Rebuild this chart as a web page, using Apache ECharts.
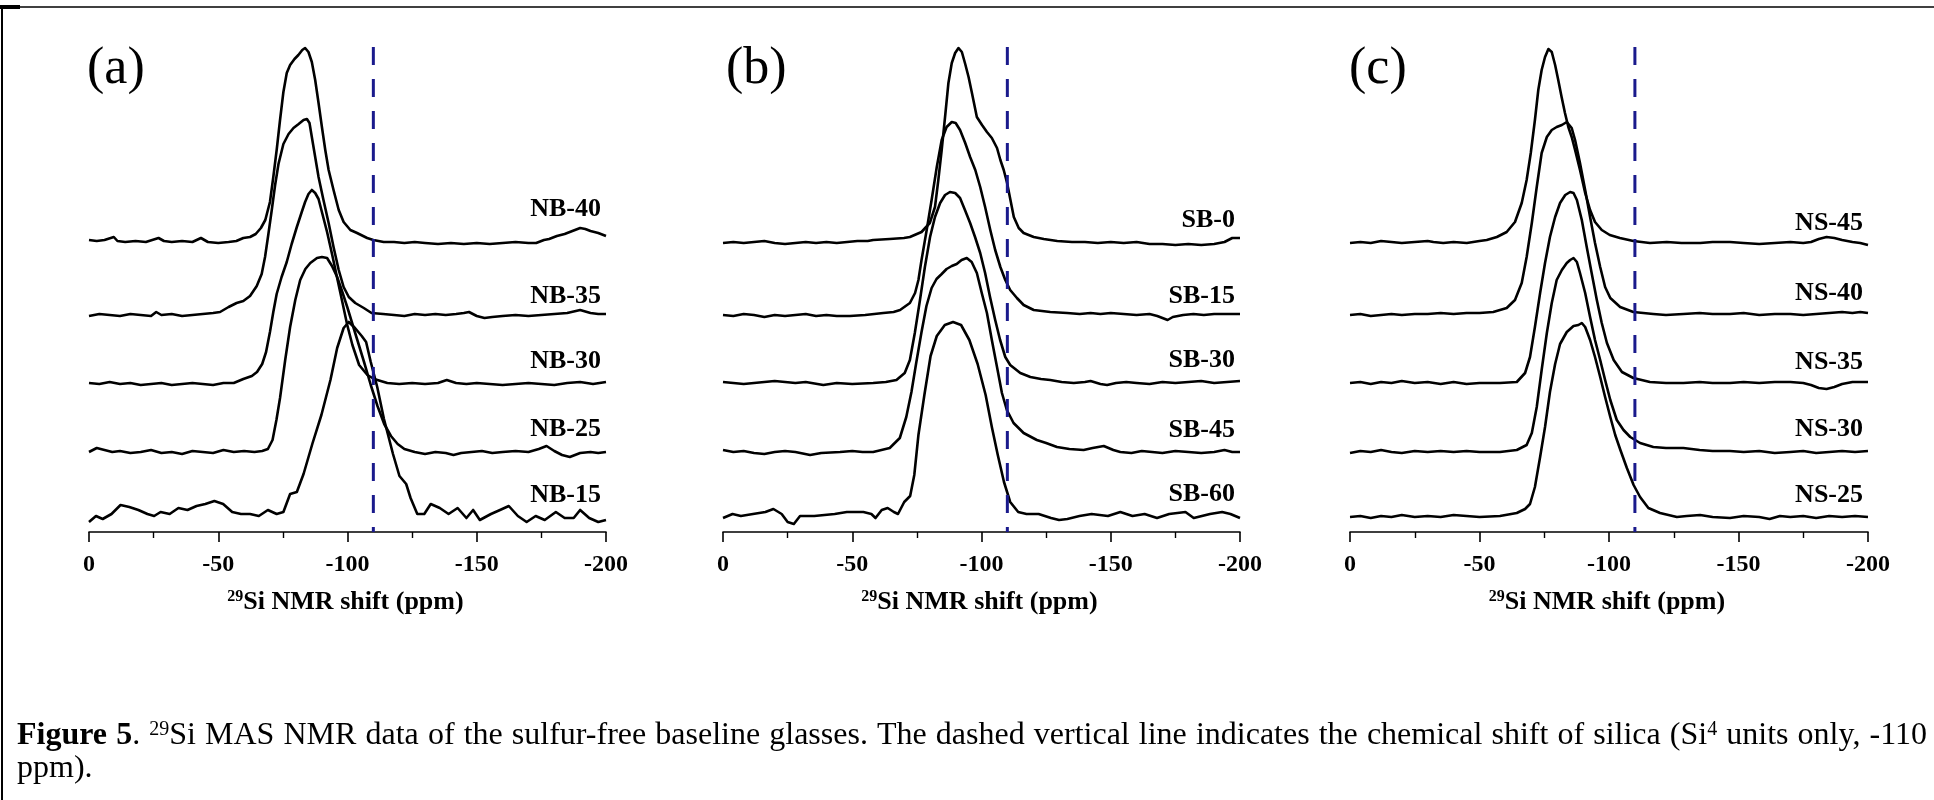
<!DOCTYPE html>
<html><head><meta charset="utf-8">
<script src="https://cdn.jsdelivr.net/npm/echarts@6/dist/echarts.min.js"></script>
<style>html,body{margin:0;padding:0;background:#fff}#c{width:1934px;height:800px}</style>
</head><body><div id="c"></div>
<script>
// ---------- axis ----------
const X_MIN = -200, X_MAX = 0, X_STEP = 50;
const SILICA_SHIFT = -110;
const PANEL_LETTERS = ['(a)', '(b)', '(c)'];
const NAMES_A = ['NB-40', 'NB-35', 'NB-30', 'NB-25', 'NB-15'];
const NAMES_B = ['SB-0', 'SB-15', 'SB-30', 'SB-45', 'SB-60'];
const NAMES_C = ['NS-45', 'NS-40', 'NS-35', 'NS-30', 'NS-25'];
const AXIS_TITLE_SUP = '29';
const AXIS_TITLE = 'Si NMR shift (ppm)';

// ---------- panel (a) ----------
const NB40 = [[0,292],[-3,291],[-6,292],[-9.6,295],[-11,291],[-14,290],[-18,291],[-22,290],[-26.9,294],[-29,291],[-32,290],[-36,291],[-40,290],[-43.3,294],[-46,290],[-50,289],[-54,290],[-57,291],[-59.7,294],[-62.3,295],[-64.5,298],[-66.5,304],[-68.2,312],[-70,330],[-71.3,355],[-72.6,382],[-73.9,412],[-75.2,440],[-76.5,459],[-77.8,467],[-79.5,473],[-81,477],[-82.5,482],[-83.6,484],[-84.9,480],[-86.2,470],[-87.5,452],[-88.8,429],[-90.1,405],[-91.4,382],[-92.7,362],[-94.6,342],[-96.6,322],[-98.5,310],[-101.1,302],[-103.7,299],[-107.6,294],[-110,292],[-114,290],[-118,290],[-122,289],[-126,290],[-130,289],[-135,288],[-140,289],[-145,288],[-150,289],[-155,288],[-160,289],[-165,290],[-170,289],[-173,289],[-176,292],[-178,293],[-181,296],[-184,298],[-187,301],[-190,304],[-192,303],[-194,301],[-197,299],[-200,296]];
const NB35 = [[0,216],[-4,218],[-8,217],[-12,216],[-16,218],[-20,217],[-24,216],[-26,220],[-28,217],[-32,218],[-36,216],[-40,217],[-44,218],[-48,219],[-50.7,220],[-54,225],[-57.1,229],[-59.7,231],[-62.3,236],[-64.9,246],[-66.8,258],[-68.1,275],[-69.4,298],[-70.7,322],[-72,347],[-73.3,368],[-75.2,388],[-77.2,398],[-79.1,404],[-81.1,408],[-83,412],[-84.3,413],[-85.3,409],[-86.2,395],[-87.5,375],[-88.8,355],[-90.7,332],[-92.7,309],[-94.6,285],[-96.6,262],[-98.5,245],[-100.5,235],[-103,229],[-106.3,224],[-109.3,219],[-113.8,218],[-118,217],[-122,216],[-126,218],[-130,217],[-134,218],[-138,217],[-142,218],[-145,219],[-147,220],[-150,216],[-153,214],[-156,215],[-160,216],[-165,217],[-170,216],[-175,217],[-180,218],[-185,219],[-190,222],[-194,219],[-197,218],[-200,218]];
const NB30 = [[0,149],[-4,148],[-8,150],[-12,148],[-16,149],[-20,147],[-24,148],[-28,149],[-32,147],[-36,148],[-40,149],[-44,148],[-48,147],[-52,149],[-56,149],[-59.7,153],[-63,156],[-65,160],[-67,168],[-68.5,180],[-70,200],[-71.3,220],[-72.6,238],[-74.5,255],[-76.5,270],[-78.4,288],[-80.4,305],[-82.3,320],[-83.6,330],[-84.9,338],[-86.2,342],[-87.5,339],[-88.8,333],[-90.1,320],[-92.1,300],[-94.1,277],[-96,254],[-98,230],[-99.9,207],[-101.9,187],[-104.5,167],[-107.7,157],[-110.3,153],[-115.4,149],[-120,148],[-125,149],[-130,148],[-135,149],[-138.4,152],[-142,149],[-146,148],[-150,149],[-155,148],[-160,147],[-165,148],[-170,149],[-175,148],[-180,147],[-185,149],[-190,150],[-195,148],[-200,150]];
const NB25 = [[0,80],[-3,84],[-6,82],[-9,80],[-12,81],[-16,79],[-20,80],[-24,82],[-28,79],[-32,80],[-36,78],[-40,81],[-44,80],[-48,79],[-52,82],[-56,80],[-60,81],[-64,80],[-67,81],[-69.2,83],[-71,92],[-72.5,112],[-73.9,134],[-75.9,172],[-77.8,205],[-79.8,232],[-81.7,252],[-83.7,263],[-85.6,269],[-88.2,274],[-90.1,275],[-92.1,274],[-94,266],[-96,255],[-98,240],[-99.9,225],[-101.9,208],[-103.8,192],[-106.4,170],[-109,147],[-111.6,126],[-114.2,108],[-116.8,96],[-119.4,88],[-122,83],[-126,80],[-130,78],[-134,80],[-138,79],[-141,77],[-144,79],[-148,80],[-152,81],[-156,79],[-160,80],[-165,81],[-170,80],[-174,83],[-177,86],[-180,81],[-183,77],[-186,75],[-190,79],[-194,80],[-197,79],[-200,80]];
const NB15 = [[0,10],[-2.7,16],[-5.3,13],[-8.7,18],[-12.2,27],[-15.6,25],[-19.1,22],[-22.6,18],[-25.2,16],[-27.7,20],[-31.2,18],[-34.6,24],[-38.1,22],[-41.6,26],[-45,28],[-48.5,31],[-51.9,28],[-55.4,20],[-58.8,18],[-62.3,18],[-65.7,16],[-69.2,22],[-72.6,18],[-75.2,20],[-77.8,38],[-80.4,40],[-83,58],[-86.5,89],[-89.9,117],[-93.4,152],[-96,184],[-98.5,204],[-100.5,210],[-102.9,204],[-105.5,196],[-107.2,190],[-109,170],[-111.5,145],[-114.1,113],[-117.6,78],[-120.1,56],[-122.7,48],[-124.4,34],[-127,18],[-129.7,18],[-132.2,28],[-135.7,24],[-139.1,18],[-142.6,24],[-146,14],[-148.6,22],[-151.2,12],[-155.5,18],[-159,22],[-162.4,26],[-165.9,16],[-169.3,10],[-172.8,16],[-176.3,12],[-180.6,20],[-184,14],[-187.5,14],[-190,22],[-193.5,14],[-197,10],[-200,12]];

// ---------- panel (b) ----------
const SB0 = [[0,289],[-4,290],[-8,289],[-12,290],[-16,291],[-20,289],[-24,288],[-28,289],[-32,290],[-36,289],[-40,290],[-44,289],[-48,290],[-52,291],[-56,291],[-58.1,292],[-64.5,293],[-70,294],[-72.3,295],[-76.8,300],[-80,309],[-82,325],[-83.3,352],[-84.6,382],[-85.9,415],[-87.2,449],[-88.5,469],[-89.8,479],[-91.1,484],[-92.4,480],[-93.7,468],[-95,455],[-96.3,439],[-98.2,415],[-100.2,407],[-102.1,400],[-104,394],[-106,384],[-107.3,372],[-108.6,362],[-109.9,349],[-111.2,332],[-112.5,315],[-114.4,304],[-116.3,299],[-120.2,295],[-124.1,293],[-129.3,291],[-135,290],[-140,290],[-145,289],[-150,290],[-155,289],[-160,290],[-165,288],[-170,288],[-175,287],[-180,288],[-185,287],[-190,288],[-194,290],[-197,294],[-200,294]];
const SB15 = [[0,217],[-4,216],[-8,218],[-12,217],[-16,215],[-20,217],[-24,216],[-28,217],[-32,218],[-36,216],[-40,217],[-44,216],[-49.1,216],[-55,217],[-62,219],[-66,220],[-68.5,222],[-72.3,229],[-74.3,239],[-75.6,252],[-76.8,272],[-78.8,302],[-80.7,332],[-82.7,365],[-84.6,392],[-86.5,405],[-88.5,410],[-90,409],[-91.7,402],[-93.7,389],[-95.6,375],[-97.6,362],[-99.5,345],[-101.4,325],[-103.4,302],[-105.3,282],[-107.3,265],[-109.2,252],[-111.1,242],[-113.7,234],[-116.3,227],[-120.2,222],[-126.6,220],[-133.1,219],[-138,218],[-142.2,219],[-146,218],[-150,219],[-155,218],[-160,217],[-165,218],[-168,216],[-170,214],[-172,212],[-174,215],[-178,217],[-182,218],[-186,217],[-190,218],[-195,218],[-200,218]];
const SB30 = [[0,150],[-4,149],[-8,148],[-12,149],[-16,150],[-20,151],[-24,150],[-28,149],[-32,150],[-38.8,147],[-44,149],[-50,148],[-58.1,149],[-63,150],[-67.1,152],[-70.3,159],[-72.3,172],[-74.2,199],[-76.2,232],[-78.1,265],[-80.1,295],[-82,315],[-84,329],[-85.9,337],[-87.8,340],[-89.8,339],[-91.7,334],[-93.6,322],[-95.6,309],[-97.5,295],[-99.5,279],[-101.4,259],[-103.3,235],[-105.3,212],[-107.2,192],[-109.2,175],[-111.1,167],[-115,159],[-118.9,155],[-123,153],[-126.6,152],[-131,150],[-135.7,149],[-140,150],[-142.2,151],[-146,148],[-148.6,147],[-152,149],[-156,150],[-160,149],[-165,148],[-170,150],[-175,149],[-180,150],[-185,151],[-190,149],[-195,150],[-200,151]];
const SB45 = [[0,82],[-4,80],[-8,81],[-12,79],[-16,78],[-20,80],[-24,81],[-28,80],[-33.7,77],[-38,79],[-45.3,80],[-50,81],[-54,80],[-58.1,80],[-64.5,84],[-68.4,94],[-70.9,115],[-72.9,140],[-74.8,170],[-76.8,200],[-78.7,226],[-80.7,244],[-82.6,253],[-84.6,258],[-86.5,263],[-88.5,266],[-90.4,268],[-92.3,272],[-94.3,274],[-96.2,270],[-98.2,259],[-100.1,239],[-102.1,219],[-104,192],[-106,165],[-107.9,139],[-109.8,122],[-112.4,109],[-116.3,99],[-121.4,92],[-125,89],[-129.2,85],[-134,83],[-139.5,82],[-143,84],[-147.3,86],[-151,82],[-153.7,80],[-158,79],[-162,81],[-166,80],[-170,79],[-175,81],[-180,80],[-185,79],[-190,80],[-194,82],[-197,80],[-200,80]];
const SB60 = [[0,14],[-3.7,18],[-6.9,16],[-11.6,18],[-16.4,20],[-19.5,23],[-22.7,18],[-25,10],[-27.4,8],[-29.8,16],[-35.3,16],[-43.2,18],[-47.9,20],[-54.3,20],[-57.4,18],[-59,14],[-61.4,22],[-63.7,24],[-66.1,20],[-67.7,18],[-70.1,30],[-72.4,36],[-74,57],[-75.6,97],[-77.9,137],[-80.3,176],[-82.7,196],[-85.8,207],[-89,210],[-92.1,207],[-95.3,192],[-98.5,168],[-101.6,137],[-104,105],[-106.3,77],[-108.7,50],[-111.1,30],[-114.2,20],[-117.4,18],[-122.1,18],[-126.9,14],[-130,12],[-133.2,13],[-137.9,16],[-142.6,18],[-148.9,16],[-153.7,20],[-158.4,16],[-163.1,18],[-167.9,14],[-172.6,18],[-178.9,20],[-182.1,14],[-188.4,18],[-193.1,20],[-196.3,18],[-200,14]];

// ---------- panel (c) ----------
const NS45 = [[0,289],[-4,290],[-8,289],[-12,291],[-16,290],[-20,289],[-25,290],[-30,291],[-32.2,290],[-36,289],[-40,290],[-45.1,289],[-50,291],[-52.8,292],[-56.7,295],[-60.5,300],[-63.7,310],[-66.3,329],[-68.2,352],[-69.8,379],[-71.4,412],[-72.7,442],[-74,462],[-75.3,475],[-76.6,483],[-77.9,480],[-79.2,467],[-80.4,452],[-81.7,435],[-83,419],[-84.3,405],[-85.6,395],[-86.9,382],[-88.8,362],[-90.8,339],[-92.7,322],[-94.6,310],[-97.2,302],[-100.3,297],[-104.2,294],[-109.4,291],[-115.8,289],[-122.3,290],[-128,289],[-135.2,289],[-140,290],[-146.7,290],[-152,289],[-158,288],[-164,289],[-170,290],[-175,289],[-178,290],[-181,293],[-184,295],[-187,294],[-190,292],[-194,290],[-197,289],[-200,287]];
const NS40 = [[0,217],[-4,218],[-8,216],[-12,217],[-16,218],[-20,217],[-25,218],[-30,218],[-35,219],[-40,218],[-45,219],[-50,219],[-55.3,220],[-60.5,224],[-63.7,232],[-66.3,249],[-68.2,275],[-70.2,309],[-72.1,345],[-74,379],[-76,395],[-77.9,402],[-79.8,405],[-81.8,407],[-83.7,410],[-84.3,411],[-85.6,404],[-86.9,392],[-88.8,369],[-90.8,342],[-92.7,315],[-94.6,289],[-96.6,265],[-98.5,245],[-100.5,234],[-104.3,225],[-109.4,220],[-117.1,218],[-122,217],[-128.7,218],[-135,219],[-140,218],[-146.7,218],[-152,219],[-158,217],[-164,218],[-170,218],[-175,217],[-180,218],[-185,219],[-190,220],[-194,219],[-197,220],[-200,219]];
const NS35 = [[0,149],[-4,150],[-8,148],[-12,150],[-16,149],[-20,151],[-25,149],[-30,150],[-35,148],[-40,150],[-45,148],[-50,149],[-57.9,149],[-64.4,150],[-67.6,159],[-69.5,175],[-71.4,205],[-73.4,239],[-75.3,269],[-77.2,295],[-79.2,315],[-81.1,329],[-83.1,337],[-85,340],[-86.3,339],[-87.6,332],[-89.5,312],[-91.4,285],[-93.3,259],[-95.3,232],[-97.2,209],[-99.2,189],[-101.8,172],[-105,160],[-109.4,154],[-115.8,150],[-122,149],[-128.7,149],[-135,150],[-140,149],[-146.7,149],[-152,150],[-158,149],[-164,150],[-170,150],[-175,149],[-178,147],[-181,144],[-184,143],[-187,145],[-190,148],[-194,150],[-197,150],[-200,150]];
const NS30 = [[0,79],[-4,81],[-8,80],[-12,82],[-16,80],[-20,79],[-25,81],[-30,80],[-35,81],[-40,80],[-45,81],[-50,80],[-57.9,80],[-64.4,82],[-68.2,87],[-70.2,99],[-72.1,125],[-74,162],[-76,199],[-77.9,229],[-79.8,252],[-81.8,262],[-83.7,269],[-85,272],[-86.3,274],[-87.6,270],[-88.8,259],[-90.8,239],[-92.7,215],[-94.6,192],[-96.6,172],[-98.5,152],[-100.5,132],[-103,112],[-105.6,102],[-108.2,95],[-112,89],[-117.1,85],[-122,84],[-128.7,84],[-135,82],[-140,81],[-146.7,81],[-152,80],[-158,81],[-164,79],[-170,80],[-175,81],[-180,79],[-185,80],[-190,81],[-195,80],[-200,81]];
const NS25 = [[0,15],[-4,16],[-8,14],[-12,16],[-16,15],[-20,17],[-25,15],[-30,16],[-35,15],[-40,17],[-45,16],[-50,15],[-57.9,16],[-64.4,19],[-67.6,23],[-69.5,28],[-71.4,45],[-73.4,75],[-75.3,105],[-77.2,140],[-79.2,168],[-81.1,188],[-83.7,200],[-86.3,206],[-88.2,207],[-89.5,209],[-90.8,205],[-92.7,192],[-94.6,175],[-96.6,155],[-98.5,135],[-100.5,115],[-102.4,97],[-104.4,82],[-106.9,64],[-109.5,47],[-112,35],[-115.2,24],[-119.7,19],[-126.2,15],[-130,16],[-135.2,17],[-140,15],[-146.7,14],[-152,16],[-158,15],[-162,13],[-166,16],[-170,15],[-175,16],[-180,14],[-185,16],[-190,15],[-195,16],[-200,15]];

// ---------- caption (words; each word = list of [text, style]) ----------
const CAPTION_LINE1 = [
  [['Figure', 'b']], [['5', 'b'], ['.', 'r']], [['29', 's'], ['Si', 'r']], [['MAS', 'r']], [['NMR', 'r']],
  [['data', 'r']], [['of', 'r']], [['the', 'r']], [['sulfur-free', 'r']], [['baseline', 'r']], [['glasses.', 'r']],
  [['The', 'r']], [['dashed', 'r']], [['vertical', 'r']], [['line', 'r']], [['indicates', 'r']], [['the', 'r']],
  [['chemical', 'r']], [['shift', 'r']], [['of', 'r']], [['silica', 'r']], [['(Si', 'r'], ['4', 's']],
  [['units', 'r']], [['only,', 'r']], [['-110', 'r']]
];
const CAPTION_LINE2 = 'ppm).';

// ---------- layout / style ----------
const FONT = "'Liberation Serif','Times New Roman',serif";
const PANELS = [
  {letter: PANEL_LETTERS[0], names: NAMES_A, data: [NB40, NB35, NB30, NB25, NB15], lifts: [27, 18, 21, 23, 25], letterX: 87},
  {letter: PANEL_LETTERS[1], names: NAMES_B, data: [SB0, SB15, SB30, SB45, SB60], lifts: [18, 18, 21, 22, 24], letterX: 726},
  {letter: PANEL_LETTERS[2], names: NAMES_C, data: [NS45, NS40, NS35, NS30, NS25], lifts: [22, 20, 20, 22, 22], letterX: 1349}
];
const GRIDS = [{left: 89, width: 517}, {left: 723, width: 517}, {left: 1350, width: 518}];
const Y_MAX = 487;

const chart = echarts.init(document.getElementById('c'), null, {renderer: 'canvas'});

const series = [];
PANELS.forEach((p, i) => {
  p.data.forEach((d, k) => {
    series.push({
      name: p.names[k], type: 'line', xAxisIndex: i, yAxisIndex: i, data: d,
      showSymbol: false, symbol: 'none', smooth: false, z: 3,
      lineStyle: {color: '#000', width: 2.6, join: 'round'}
    });
  });
  series.push({
    type: 'line', xAxisIndex: i, yAxisIndex: i, z: 5, symbol: 'none', showSymbol: false,
    data: [[SILICA_SHIFT, 485], [SILICA_SHIFT, 0]],
    lineStyle: {color: '#1a1a8c', width: 3, type: [18, 14]}
  });
});

chart.setOption({
  animation: false,
  backgroundColor: '#fff',
  grid: GRIDS.map(g => ({left: g.left, width: g.width, top: 45, height: Y_MAX})),
  xAxis: GRIDS.map((g, i) => ({
    gridIndex: i, type: 'value', min: X_MIN, max: X_MAX, interval: X_STEP, inverse: true,
    axisLine: {show: true, onZero: false, lineStyle: {color: '#000', width: 1.6}},
    axisTick: {show: true, inside: false, length: 10, lineStyle: {color: '#000', width: 1.6}},
    minorTick: {show: true, splitNumber: 2, length: 6, lineStyle: {color: '#000', width: 1.4}},
    splitLine: {show: false},
    axisLabel: {color: '#000', fontFamily: FONT, fontWeight: 'bold', fontSize: 24, margin: 21}
  })),
  yAxis: GRIDS.map((g, i) => ({gridIndex: i, type: 'value', min: 0, max: Y_MAX, show: false})),
  series: series
});

// ---------- texts ----------
const graphics = [];
graphics.push({type: 'line', shape: {x1: 2, y1: 7, x2: 1934, y2: 7}, style: {stroke: '#000', lineWidth: 1.6}});
graphics.push({type: 'line', shape: {x1: 2, y1: 6, x2: 2, y2: 800}, style: {stroke: '#000', lineWidth: 2}});
graphics.push({type: 'rect', shape: {x: 0, y: 5, width: 20, height: 4}, style: {fill: '#000'}});

PANELS.forEach((p, i) => {
  const o = chart.convertToPixel({gridIndex: i}, [X_MAX, 0]);
  const e = chart.convertToPixel({gridIndex: i}, [X_MIN, 0]);
  graphics.push({type: 'text', x: p.letterX, y: 69, style: {
    text: p.letter, fontFamily: FONT, fontSize: 52, fill: '#000', align: 'left', verticalAlign: 'middle'}});
  p.data.forEach((d, k) => {
    const last = d[d.length - 1];
    const pt = chart.convertToPixel({gridIndex: i}, last);
    graphics.push({type: 'text', x: e[0] - 5, y: pt[1] - p.lifts[k], style: {
      text: p.names[k], fontFamily: FONT, fontWeight: 'bold', fontSize: 26, fill: '#000',
      align: 'right', verticalAlign: 'middle'}});
  });
  graphics.push({type: 'text', x: (o[0] + e[0]) / 2 - 2, y: 602, style: {
    text: '{s|' + AXIS_TITLE_SUP + '}{t|' + AXIS_TITLE + '}', align: 'center', verticalAlign: 'middle', fill: '#000',
    rich: {
      s: {fontFamily: FONT, fontWeight: 'bold', fontSize: 16, fill: '#000', verticalAlign: 'top'},
      t: {fontFamily: FONT, fontWeight: 'bold', fontSize: 26, fill: '#000'}
    }}});
});

// caption, justified between CAP_X0 and CAP_X1
const CAP_SIZE = 32, CAP_SUP = 20, CAP_X0 = 17, CAP_X1 = 1927;
const capFonts = {
  b: 'bold ' + CAP_SIZE + 'px ' + FONT,
  r: CAP_SIZE + 'px ' + FONT,
  s: CAP_SUP + 'px ' + FONT
};
const capRich = {
  b: {fontFamily: FONT, fontWeight: 'bold', fontSize: CAP_SIZE, fill: '#000'},
  r: {fontFamily: FONT, fontSize: CAP_SIZE, fill: '#000'},
  s: {fontFamily: FONT, fontSize: CAP_SUP, fill: '#000', verticalAlign: 'top'}
};
const ctx = document.createElement('canvas').getContext('2d');
const wordWidths = CAPTION_LINE1.map(wd => wd.reduce((acc, [t, s]) => { ctx.font = capFonts[s]; return acc + ctx.measureText(t).width; }, 0));
const totalW = wordWidths.reduce((a, b) => a + b, 0);
const gap = (CAP_X1 - CAP_X0 - totalW) / (CAPTION_LINE1.length - 1);
let cx = CAP_X0;
CAPTION_LINE1.forEach((wd, idx) => {
  graphics.push({type: 'text', x: cx, y: 736, style: {
    text: wd.map(([t, s]) => '{' + s + '|' + t + '}').join(''), rich: capRich,
    align: 'left', verticalAlign: 'middle', fill: '#000'}});
  cx += wordWidths[idx] + gap;
});
graphics.push({type: 'text', x: CAP_X0, y: 769, style: {
  text: CAPTION_LINE2, fontFamily: FONT, fontSize: CAP_SIZE, fill: '#000', align: 'left', verticalAlign: 'middle'}});

chart.setOption({graphic: graphics});
</script>
</body></html>
